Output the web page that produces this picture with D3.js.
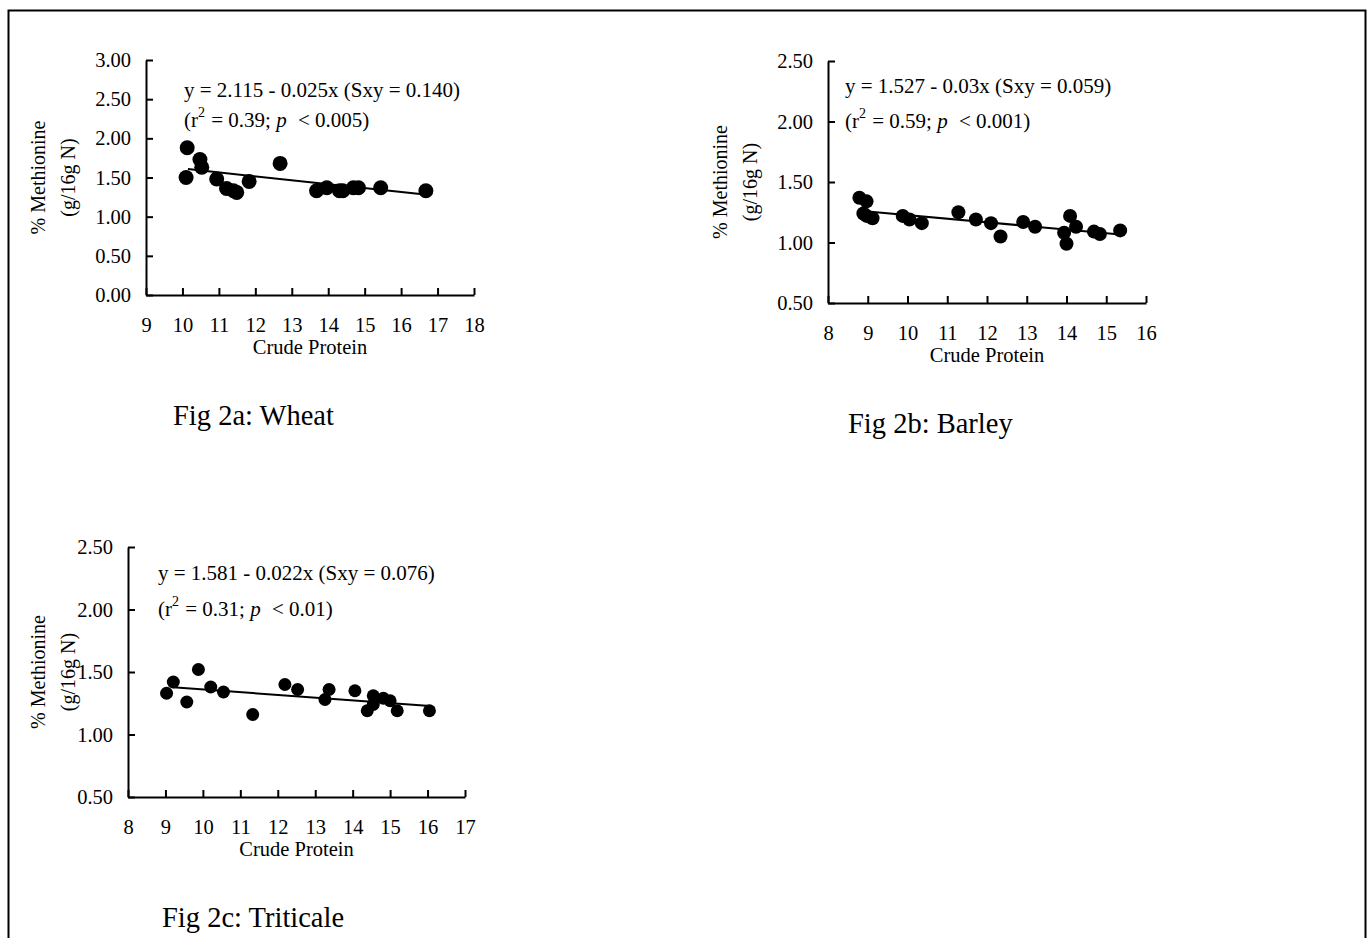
<!DOCTYPE html>
<html>
<head>
<meta charset="utf-8">
<script src="https://cdn.jsdelivr.net/npm/d3@7"></script>
<style>
  body { margin: 0; background: #fff; }
  svg { display: block; }
  text { font-family: "Liberation Serif", "Times New Roman", serif; }
</style>
</head>
<body>
<svg id="chart" width="1370" height="938"></svg>
<script>
/* values */
const wheatCP  = [10.13, 10.10, 10.48, 10.53, 10.94, 11.21, 11.40, 11.49, 11.83, 12.68, 13.68, 13.96, 14.31, 14.40, 14.69, 14.83, 15.44, 16.68];
const wheatMet = [1.88, 1.50, 1.73, 1.63, 1.48, 1.36, 1.33, 1.31, 1.45, 1.68, 1.33, 1.37, 1.33, 1.33, 1.37, 1.37, 1.37, 1.33];

const barleyCP  = [8.79, 8.97, 8.89, 8.97, 9.12, 9.88, 10.05, 10.36, 11.28, 11.72, 12.10, 12.34, 12.91, 13.21, 14.09, 14.24, 13.94, 14.00, 14.69, 14.84, 15.35];
const barleyMet = [1.37, 1.34, 1.24, 1.22, 1.20, 1.22, 1.19, 1.16, 1.25, 1.19, 1.16, 1.05, 1.17, 1.13, 1.22, 1.13, 1.08, 0.99, 1.09, 1.07, 1.10];

const triticaleCP  = [9.03, 9.21, 9.57, 9.88, 10.21, 10.55, 11.33, 12.19, 12.53, 13.26, 13.37, 14.06, 14.39, 14.55, 14.55, 14.82, 15.00, 15.19, 16.05];
const triticaleMet = [1.33, 1.42, 1.26, 1.52, 1.38, 1.34, 1.16, 1.40, 1.36, 1.28, 1.36, 1.35, 1.19, 1.24, 1.31, 1.29, 1.27, 1.19, 1.19];

// fitted lines as drawn (intercept, slope, x from, x to)
const wheatFit     = [2.115, -0.050, 10.15, 16.65];
const barleyFit    = [1.527, -0.030, 9.0, 15.35];
const triticaleFit = [1.581, -0.022, 9.2, 16.07];

const wheatXTicks = d3.range(9, 19);
const barleyXTicks = d3.range(8, 17);
const triticaleXTicks = d3.range(8, 18);
const wheatYTicks = [0, 0.5, 1, 1.5, 2, 2.5, 3];
const barleyYTicks = [0.5, 1, 1.5, 2, 2.5];
const triticaleYTicks = [0.5, 1, 1.5, 2, 2.5];

const eqLines = [
  ["y = 2.115 - 0.025x (Sxy = 0.140)", "0.39", "0.005"],
  ["y = 1.527 - 0.03x (Sxy = 0.059)", "0.59", "0.001"],
  ["y = 1.581 - 0.022x (Sxy = 0.076)", "0.31", "0.01"]
];
const captions = ["Fig 2a: Wheat", "Fig 2b: Barley", "Fig 2c: Triticale"];

/* layout */
const panels = [
  { cp: wheatCP, met: wheatMet, fit: wheatFit, xt: wheatXTicks, yt: wheatYTicks,
    left: 146, right: 474, top: 60, bottom: 295, r: 7.5,
    eq: [184, 97, 127], cap: [173, 425], lab: [38, 68] },
  { cp: barleyCP, met: barleyMet, fit: barleyFit, xt: barleyXTicks, yt: barleyYTicks,
    left: 828, right: 1146, top: 61, bottom: 303, r: 7,
    eq: [845, 93, 128], cap: [848, 433], lab: [720, 750] },
  { cp: triticaleCP, met: triticaleMet, fit: triticaleFit, xt: triticaleXTicks, yt: triticaleYTicks,
    left: 128, right: 465, top: 547, bottom: 797, r: 6.5,
    eq: [158, 580, 616], cap: [162, 927], lab: [38, 68] }
];

const svg = d3.select("#chart");

// page frame (no bottom edge in view)
svg.append("path")
  .attr("d", "M8.5,960V10.5H1365.5V960")
  .attr("fill", "none")
  .attr("stroke", "#000")
  .attr("stroke-width", 2);

panels.forEach(function(p, i) {
  let x = d3.scaleLinear().domain(d3.extent(p.xt)).range([p.left, p.right]);
  let y = d3.scaleLinear().domain(d3.extent(p.yt)).range([p.bottom, p.top]);
  let g = svg.append("g");

  let yAxis = g.append("g")
    .attr("transform", "translate(" + p.left + ",0)")
    .call(d3.axisLeft(y).tickValues(p.yt).tickFormat(d3.format(".2f"))
      .tickSizeInner(-7).tickSizeOuter(0).tickPadding(15));
  let xAxis = g.append("g")
    .attr("transform", "translate(0," + p.bottom + ")")
    .call(d3.axisBottom(x).tickValues(p.xt).tickFormat(d3.format("d"))
      .tickSizeInner(-7).tickSizeOuter(0).tickPadding(22));

  [yAxis, xAxis].forEach(function(ax) {
    ax.attr("font-family", null).attr("font-size", 20.5);
    ax.selectAll("text").attr("fill", "#000");
    ax.selectAll("path, line").attr("stroke", "#000").attr("stroke-width", 2);
  });

  // axis titles
  let midY = (p.top + p.bottom) / 2;
  g.append("text")
    .attr("transform", "translate(" + p.lab[0] + "," + midY + ") rotate(-90)")
    .attr("text-anchor", "middle").attr("dominant-baseline", "central")
    .attr("font-size", 20).text("% Methionine");
  g.append("text")
    .attr("transform", "translate(" + p.lab[1] + "," + midY + ") rotate(-90)")
    .attr("text-anchor", "middle").attr("dominant-baseline", "central")
    .attr("font-size", 20).text("(g/16g N)");
  g.append("text")
    .attr("x", (p.left + p.right) / 2).attr("y", p.bottom + 59)
    .attr("text-anchor", "middle").attr("font-size", 20.5)
    .text("Crude Protein");

  // points
  g.selectAll("circle")
    .data(p.cp.map((d, k) => [d, p.met[k]]))
    .enter().append("circle")
    .attr("cx", d => x(d[0]))
    .attr("cy", d => y(d[1]))
    .attr("r", p.r)
    .attr("fill", "#000");

  // regression line
  let fx = [p.fit[2], p.fit[3]];
  g.append("line")
    .attr("x1", x(fx[0])).attr("y1", y(p.fit[0] + p.fit[1] * fx[0]))
    .attr("x2", x(fx[1])).attr("y2", y(p.fit[0] + p.fit[1] * fx[1]))
    .attr("stroke", "#000").attr("stroke-width", 2);

  // equation text
  g.append("text")
    .attr("x", p.eq[0]).attr("y", p.eq[1])
    .attr("font-size", 21).text(eqLines[i][0]);
  let t2 = g.append("text")
    .attr("x", p.eq[0]).attr("y", p.eq[2])
    .attr("font-size", 21);
  t2.append("tspan").text("(r");
  t2.append("tspan").attr("font-size", 14).attr("dy", -10).text("2");
  t2.append("tspan").attr("dy", 10).attr("dx", 1).text(" = " + eqLines[i][1] + "; ");
  t2.append("tspan").attr("font-style", "italic").text("p");
  t2.append("tspan").attr("dx", 6).text(" < " + eqLines[i][2] + ")");

  // caption
  g.append("text")
    .attr("x", p.cap[0]).attr("y", p.cap[1])
    .attr("font-size", 28.5).text(captions[i]);
});
</script>
</body>
</html>
